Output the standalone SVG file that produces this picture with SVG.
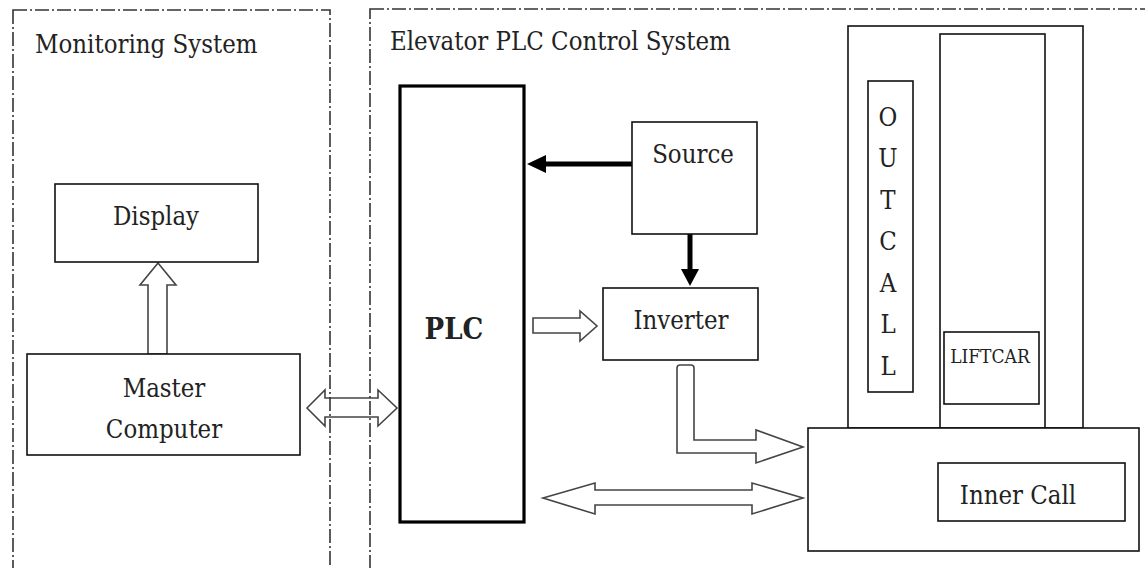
<svg xmlns="http://www.w3.org/2000/svg" width="1145" height="568" viewBox="0 0 1145 568">
<style>
text{font-family:"DejaVu Serif Condensed","DejaVu Serif","Liberation Serif",serif;fill:#222;font-size:25.5px}
.box{fill:#fff;stroke:#111;stroke-width:1.6}
.plc{fill:#fff;stroke:#000;stroke-width:3.2}
.sys{fill:none;stroke:#333;stroke-width:1.6;stroke-dasharray:14 3 2 3}
.hollow{fill:#fff;stroke:#444;stroke-width:1.6;stroke-linejoin:miter}
.solid{stroke:#000;stroke-width:5;fill:none}
.head{fill:#000}
.mid{text-anchor:middle}
</style>
<g id="connectors">
<polygon class="hollow" points="148,354 148,285 140,285 158,263 176,285 167,285 167,354"/>
<polygon class="hollow" points="307,408 325,390 325,398 378,398 378,390 397,408 378,426 378,417 325,417 325,426"/>
<line class="solid" x1="632" y1="164" x2="543" y2="164"/>
<polygon class="head" points="527,164 546,155 546,173"/>
<line class="solid" x1="690" y1="234" x2="690" y2="271"/>
<polygon class="head" points="690,286 681,269 699,269"/>
<polygon class="hollow" points="533,318 580,318 580,311 597,326 580,341 580,333 533,333"/>
<path class="hollow" d="M677,368 Q677,365 680,365 L691,365 Q694,365 694,368 L694,440 L756,440 L756,430 L803,447 L756,463 L756,453 L677,453 Z"/>
<polygon class="hollow" points="543,498 595,483 595,490 752,490 752,483 803,498 752,514 752,505 595,505 595,514"/>
</g>
<g id="monitoring-system">
<rect class="sys" x="13" y="10" width="317" height="570"/>
<text x="35" y="53">Monitoring System</text>
</g>
<g id="elevator-plc-control-system">
<rect class="sys" x="370" y="9" width="800" height="580"/>
<text x="390" y="50">Elevator PLC Control System</text>
</g>
<g id="display">
<rect class="box" x="55" y="184" width="203" height="78"/>
<text class="mid" x="156" y="225">Display</text>
</g>
<g id="master-computer">
<rect class="box" x="27" y="354" width="273" height="101"/>
<text class="mid" x="164" y="397">Master</text>
<text class="mid" x="164" y="438">Computer</text>
</g>
<g id="plc">
<rect class="plc" x="400" y="86" width="124" height="436"/>
<text class="mid" x="454" y="339" style="font-weight:bold;font-size:29px">PLC</text>
</g>
<g id="source">
<rect class="box" x="632" y="122" width="125" height="112"/>
<text class="mid" x="693" y="163">Source</text>
</g>
<g id="inverter">
<rect class="box" x="603" y="288" width="155" height="72"/>
<text class="mid" x="681" y="329">Inverter</text>
</g>
<g id="shaft">
<rect class="box" x="848" y="26" width="235" height="402"/>
<rect class="box" x="940" y="34" width="105" height="394"/>
</g>
<g id="outcall">
<rect class="box" x="868" y="81" width="45" height="311"/>
<text class="mid" x="888" y="126">O</text>
<text class="mid" x="888" y="167">U</text>
<text class="mid" x="888" y="209">T</text>
<text class="mid" x="888" y="250">C</text>
<text class="mid" x="888" y="292">A</text>
<text class="mid" x="888" y="333">L</text>
<text class="mid" x="888" y="375">L</text>
</g>
<g id="liftcar">
<rect class="box" x="944" y="332" width="95" height="72"/>
<text class="mid" x="990" y="363" style="font-size:19px">LIFTCAR</text>
</g>
<g id="car-base">
<rect class="box" x="808" y="428" width="331" height="123"/>
</g>
<g id="inner-call">
<rect class="box" x="938" y="463" width="187" height="58"/>
<text class="mid" x="1018" y="504">Inner Call</text>
</g>
</svg>
